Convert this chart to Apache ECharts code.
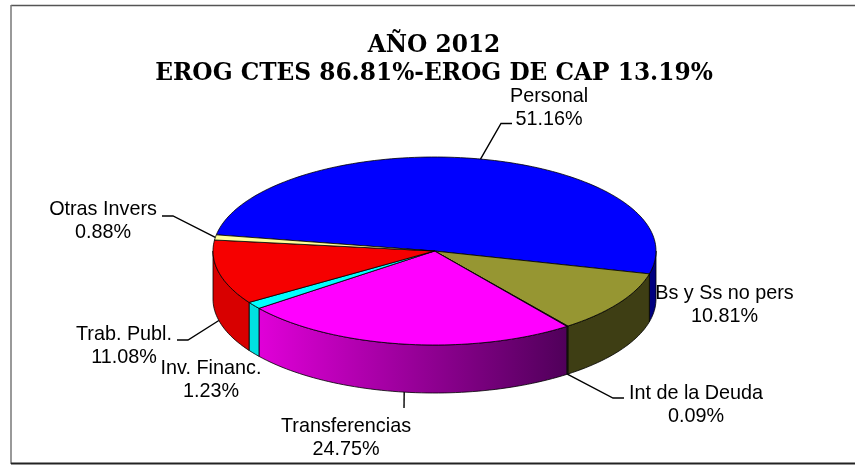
<!DOCTYPE html>
<html>
<head>
<meta charset="utf-8">
<style>
html, body { margin: 0; padding: 0; background: #fff; }
#main { width: 855px; height: 465px; }
</style>
<script src="https://cdn.jsdelivr.net/npm/echarts@6/dist/echarts.min.js"></script>
</head>
<body>
<div id="main"></div>
<script>
// datos
var categories = ['Personal', 'Bs y Ss no pers', 'Int de la Deuda', 'Transferencias', 'Inv. Financ.', 'Trab. Publ.', 'Otras Invers'];
var shares = [51.16, 10.81, 0.09, 24.75, 1.23, 11.08, 0.88];
var titleLines = ['AÑO 2012', 'EROG CTES 86.81%-EROG DE CAP 13.19%'];

// colores de cara superior y lateral (izquierda, derecha)
var topColors = ['#0000ff', '#969632', '#7a0070', '#ff00ff', '#00ffff', '#f60000', '#ffff99'];
var sideColors = [
    ['#000080', '#000080'],
    ['#3e3e14', '#3e3e14'],
    ['#3e3e14', '#3e3e14'],
    ['#e000d8', '#50005a'],
    ['#00e0e0', '#00e0e0'],
    ['#d80000', '#d80000'],
    ['#cccc80', '#cccc80']
];

// geometria del pastel
var cx = 434.5, cy = 251, rx = 221.5, ry = 94, depth = 48;
var startAngle = -80.1;

// posicion de etiquetas y guias [x, y centro de la primera linea], codo de la guia
var labelLayout = {
    'Personal': { pos: [549, 97], leader: [[501, 123.5], [512, 123.5]], rim: 'top' },
    'Bs y Ss no pers': { pos: [724.5, 294] },
    'Int de la Deuda': { pos: [696, 394], leader: [[613, 398], [624, 398]], rim: 'bottom' },
    'Transferencias': { pos: [346, 427], leader: [[404, 408]], rim: 'bottom' },
    'Inv. Financ.': { pos: [211, 369] },
    'Trab. Publ.': { pos: [124, 335], leader: [[188, 340], [177, 340]], rim: 'bottom' },
    'Otras Invers': { pos: [103, 210], leader: [[173, 216], [162, 216]], rim: 'top' }
};

function pt(deg, dy) {
    var a = deg * Math.PI / 180;
    return [cx + rx * Math.sin(a), cy - ry * Math.cos(a) + (dy || 0)];
}
function arc(from, to, dy) {
    var out = [];
    var n = Math.max(2, Math.ceil(Math.abs(to - from) / 1.5));
    for (var i = 0; i <= n; i++) {
        out.push(pt(from + (to - from) * i / n, dy));
    }
    return out;
}
function sliceRange(index) {
    var from = startAngle;
    for (var i = 0; i < index; i++) from += shares[i] * 3.6;
    return [from, from + shares[index] * 3.6];
}

function renderSlice(params, api) {
    var i = params.dataIndex;
    var range = sliceRange(i);
    var children = [];
    // cara lateral: solo la parte que da al frente (90 a 270 grados)
    var a = Math.max(range[0], 90), b = Math.min(range[1], 270);
    if (b > a) {
        var front = arc(a, b, 0);
        var back = arc(b, a, depth);
        // el arco va de derecha a izquierda
        var xRight = front[0][0], xLeft = front[front.length - 1][0];
        children.push({
            type: 'polygon',
            z2: 1,
            shape: { points: front.concat(back) },
            style: {
                fill: new echarts.graphic.LinearGradient(xLeft, 0, xRight, 0, [
                    { offset: 0, color: sideColors[i][0] },
                    { offset: 1, color: sideColors[i][1] }
                ], true),
                stroke: '#000',
                lineWidth: 0.8
            }
        });
    }
    // cara superior
    children.push({
        type: 'polygon',
        z2: 2,
        shape: { points: [[cx, cy]].concat(arc(range[0], range[1], 0)) },
        style: { fill: topColors[i], stroke: '#000', lineWidth: 0.8 }
    });
    // etiqueta y guia
    var name = categories[i];
    var lay = labelLayout[name];
    var mid = (range[0] + range[1]) / 2;
    if (lay.leader) {
        var start = pt(mid, lay.rim === 'bottom' ? depth : 0);
        children.push({
            type: 'polyline',
            z2: 3,
            shape: { points: [start].concat(lay.leader) },
            style: { fill: null, stroke: '#000', lineWidth: 1.4 }
        });
    }
    children.push({
        type: 'text',
        z2: 4,
        x: lay.pos[0],
        y: lay.pos[1] - 11.5,
        style: {
            text: name + '\n' + api.value(1).toFixed(2) + '%',
            fontFamily: '"Liberation Sans", Arial, sans-serif',
            fontSize: 19.8,
            lineHeight: 23,
            fill: '#000',
            align: 'center',
            verticalAlign: 'top'
        }
    });
    return { type: 'group', children: children };
}

var chart = echarts.init(document.getElementById('main'), null, { renderer: 'canvas' });
var seriesData = [];
for (var i = 0; i < categories.length; i++) {
    seriesData.push([categories[i], shares[i]]);
}
var option = {
    backgroundColor: '#fff',
    animation: false,
    title: {
        text: titleLines.join('\n'),
        left: 429,
        textAlign: 'center',
        top: 27,
        textStyle: {
            fontFamily: '"DejaVu Serif", serif',
            fontWeight: 'bold',
            fontSize: 23.3,
            lineHeight: 28,
            color: '#000'
        }
    },
    graphic: [
        { type: 'line', shape: { x1: 11, y1: 5.5, x2: 855, y2: 5.5 }, style: { stroke: '#555', lineWidth: 1.5 } },
        { type: 'line', shape: { x1: 11, y1: 5, x2: 11, y2: 464 }, style: { stroke: '#777', lineWidth: 1.5 } },
        { type: 'line', shape: { x1: 11, y1: 463.5, x2: 855, y2: 463.5 }, style: { stroke: '#222', lineWidth: 2 } }
    ],
    series: [{
        type: 'custom',
        coordinateSystem: 'none',
        renderItem: renderSlice,
        data: seriesData
    }]
};
chart.setOption(option);
</script>
</body>
</html>
